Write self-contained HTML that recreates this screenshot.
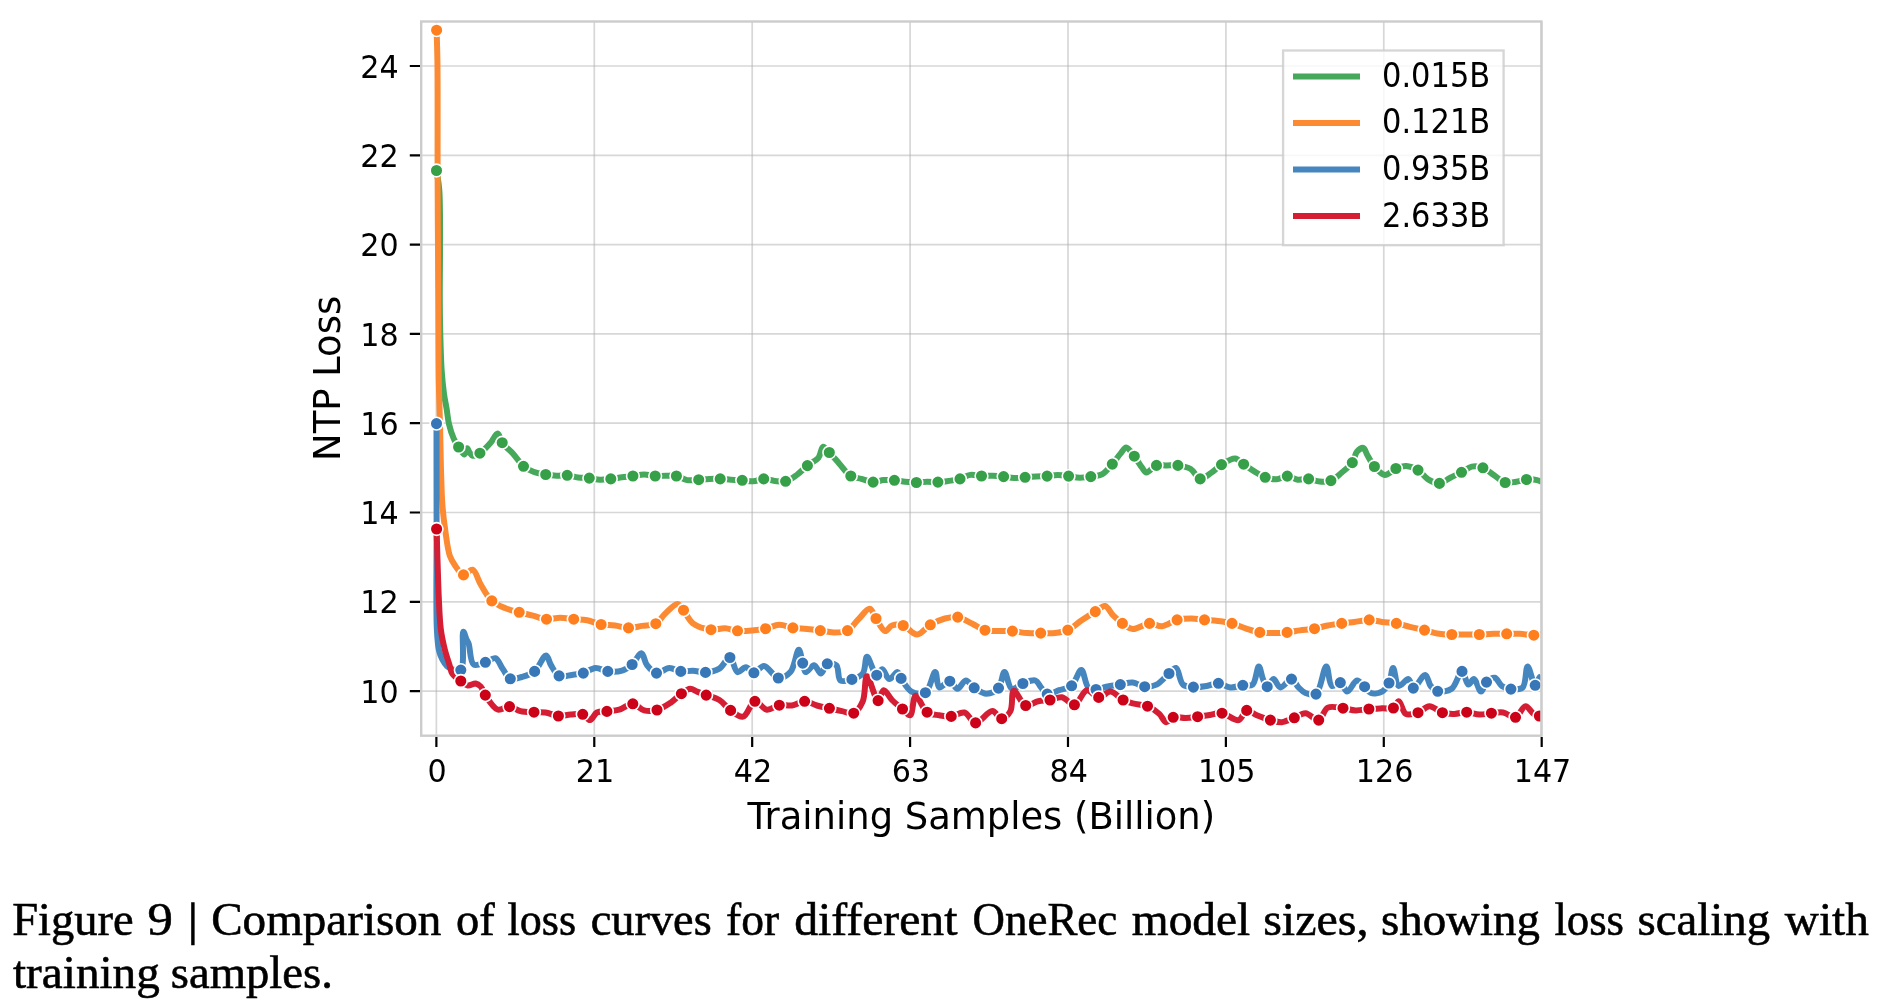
<!DOCTYPE html>
<html><head><meta charset="utf-8"><title>Figure 9</title>
<style>html,body{margin:0;padding:0;background:#fff;overflow:hidden}svg{display:block;will-change:transform}</style>
</head><body>
<svg width="1889" height="1006" viewBox="0 0 1889 1006">
<rect width="1889" height="1006" fill="#fff"/>
<g stroke="#b0b0b0" stroke-opacity="0.5" stroke-width="1.7" fill="none">
<path d="M436.38 21.5V735.7"/>
<path d="M594.28 21.5V735.7"/>
<path d="M752.18 21.5V735.7"/>
<path d="M910.08 21.5V735.7"/>
<path d="M1067.98 21.5V735.7"/>
<path d="M1225.89 21.5V735.7"/>
<path d="M1383.79 21.5V735.7"/>
<path d="M1541.69 21.5V735.7"/>
<path d="M421.2 691.10H1541.4"/>
<path d="M421.2 601.80H1541.4"/>
<path d="M421.2 512.50H1541.4"/>
<path d="M421.2 423.20H1541.4"/>
<path d="M421.2 333.90H1541.4"/>
<path d="M421.2 244.60H1541.4"/>
<path d="M421.2 155.30H1541.4"/>
<path d="M421.2 66.00H1541.4"/>
</g>
<defs><clipPath id="ax"><rect x="421.2" y="21.5" width="1120.2" height="714.2"/></clipPath></defs>
<g clip-path="url(#ax)">
<path d="M436.5 170.5 C437.4 177.0 438.6 180.8 439.3 190.0 C440.9 211.7 439.6 274.8 439.8 300.0 C439.9 313.1 439.9 319.2 440.2 330.0 C440.5 342.6 440.9 359.3 441.7 371.0 C442.3 379.8 443.1 387.3 444.0 394.0 C444.7 399.3 445.7 403.2 446.5 408.0 C447.4 413.2 447.8 418.8 449.0 424.0 C450.2 429.2 452.0 435.0 453.9 439.1 C455.3 442.3 456.9 444.5 458.6 447.0 C460.4 449.6 463.0 454.7 464.5 454.5 C465.7 454.3 466.3 448.3 467.2 448.3 C468.0 448.3 468.6 451.3 469.6 452.6 C470.5 453.8 471.4 455.5 472.8 455.8 C474.6 456.2 477.5 454.7 479.9 453.2 C483.3 451.1 487.3 446.6 490.4 443.1 C493.2 440.0 495.6 433.3 497.6 433.5 C499.5 433.7 500.0 439.6 502.2 442.7 C504.9 446.5 509.9 450.2 513.5 454.2 C517.0 458.1 519.9 463.3 523.5 466.3 C526.6 468.8 529.8 470.3 533.4 471.7 C537.2 473.1 541.7 473.8 545.7 474.5 C549.4 475.1 552.9 475.6 556.5 475.7 C560.1 475.8 563.6 475.0 567.2 475.3 C570.8 475.6 574.3 477.0 578.0 477.5 C581.7 478.0 585.6 477.7 589.3 478.1 C592.9 478.5 596.4 479.6 600.0 479.7 C603.6 479.8 607.2 479.3 610.8 478.9 C614.5 478.5 618.2 477.8 621.9 477.3 C625.6 476.8 629.2 476.5 632.9 476.0 C636.6 475.5 640.5 474.5 644.2 474.5 C647.9 474.5 651.6 475.8 655.2 476.0 C658.7 476.2 662.2 475.7 665.7 475.7 C669.2 475.7 672.9 475.3 676.4 476.0 C680.0 476.7 683.4 479.5 687.1 480.1 C690.8 480.7 694.9 479.9 698.7 479.7 C702.3 479.5 705.8 479.0 709.4 478.9 C713.0 478.8 716.6 478.8 720.2 478.9 C723.8 479.0 727.3 479.5 730.9 479.7 C734.6 479.9 738.5 480.0 742.2 480.3 C745.9 480.6 749.6 481.5 753.2 481.3 C756.8 481.1 760.2 479.0 763.7 478.9 C767.3 478.8 771.0 480.5 774.7 480.9 C778.3 481.3 782.1 482.2 785.6 481.3 C789.5 480.4 793.3 477.4 796.9 474.9 C800.6 472.2 803.8 468.5 807.4 465.6 C811.0 462.8 815.7 461.1 818.4 457.8 C820.9 454.7 821.1 447.1 823.2 446.7 C824.9 446.4 827.1 450.2 829.3 452.5 C832.2 455.5 835.7 459.6 839.1 463.4 C842.8 467.5 846.6 473.5 850.8 476.0 C854.1 478.0 857.8 477.9 861.4 478.9 C865.2 479.9 869.3 481.9 873.1 482.1 C876.7 482.2 880.1 480.4 883.6 480.1 C887.2 479.8 890.8 480.0 894.4 480.3 C898.0 480.6 901.5 481.3 905.1 481.7 C908.8 482.1 912.7 482.5 916.4 482.5 C920.0 482.5 923.4 481.8 927.0 481.7 C930.6 481.6 934.3 482.2 937.9 482.1 C941.6 482.0 945.2 481.4 948.9 480.9 C952.6 480.4 956.4 479.9 960.0 478.9 C963.5 477.9 966.7 475.4 970.3 474.9 C973.9 474.4 977.8 475.9 981.5 476.0 C985.2 476.1 988.9 475.6 992.6 475.7 C996.3 475.8 1000.0 476.2 1003.6 476.6 C1007.1 477.0 1010.6 478.0 1014.1 478.1 C1017.7 478.2 1021.4 477.6 1025.1 477.3 C1028.8 477.0 1032.7 476.7 1036.4 476.5 C1040.0 476.3 1043.5 476.4 1047.1 476.1 C1050.7 475.8 1054.2 474.9 1057.8 474.9 C1061.4 474.9 1065.0 475.6 1068.6 476.1 C1072.3 476.6 1076.0 477.6 1079.7 477.7 C1083.4 477.8 1087.1 477.2 1090.8 476.6 C1094.6 476.0 1098.9 476.0 1102.4 474.1 C1106.2 472.0 1109.2 467.6 1112.3 464.1 C1115.3 460.7 1118.1 456.4 1120.7 453.4 C1122.7 451.1 1124.2 447.4 1126.2 447.4 C1128.6 447.4 1131.7 453.0 1134.3 456.2 C1137.1 459.7 1139.8 464.8 1142.1 467.7 C1143.7 469.7 1144.6 472.3 1146.5 472.5 C1149.1 472.8 1153.0 466.5 1156.5 465.4 C1159.8 464.4 1163.3 465.4 1166.8 465.4 C1170.4 465.4 1174.1 464.9 1177.9 465.4 C1182.1 466.0 1187.0 466.8 1190.7 469.0 C1194.5 471.3 1196.7 478.4 1200.2 478.9 C1203.6 479.4 1207.9 475.0 1211.4 472.6 C1215.0 470.2 1217.7 466.9 1221.5 464.6 C1225.6 462.1 1231.3 458.3 1235.2 458.6 C1238.4 458.9 1240.6 462.2 1243.6 464.2 C1247.0 466.4 1250.7 469.2 1254.3 471.4 C1257.9 473.6 1261.4 476.0 1265.2 477.3 C1268.9 478.6 1272.9 479.5 1276.6 479.3 C1280.2 479.1 1283.8 476.0 1287.3 476.1 C1290.8 476.2 1294.1 479.2 1297.7 479.7 C1301.2 480.2 1305.0 478.6 1308.6 478.9 C1312.3 479.2 1315.8 481.3 1319.5 481.6 C1323.2 481.9 1327.3 482.0 1330.9 480.6 C1334.8 479.1 1338.3 475.4 1341.8 472.5 C1345.4 469.5 1349.7 466.3 1352.3 462.6 C1354.6 459.3 1354.7 454.3 1356.9 451.8 C1358.6 449.8 1361.6 447.4 1363.3 447.8 C1365.1 448.3 1365.7 452.3 1367.3 455.0 C1369.3 458.4 1371.5 463.2 1374.4 466.5 C1377.3 469.8 1381.2 474.6 1384.8 474.9 C1388.3 475.2 1392.2 470.0 1395.9 468.5 C1399.3 467.2 1402.7 465.9 1406.2 466.1 C1410.0 466.3 1414.4 468.0 1418.0 470.1 C1421.8 472.3 1424.4 477.1 1428.1 479.3 C1431.6 481.4 1435.7 483.6 1439.4 483.4 C1443.1 483.2 1446.6 479.5 1450.3 477.7 C1454.0 475.8 1457.9 474.2 1461.5 472.3 C1465.0 470.5 1468.2 467.3 1471.8 466.6 C1475.3 465.9 1479.3 466.5 1482.9 467.8 C1486.8 469.2 1490.4 472.8 1494.1 475.3 C1497.8 477.7 1501.3 481.5 1505.2 482.5 C1508.8 483.4 1512.7 482.2 1516.3 481.7 C1519.8 481.2 1523.1 479.8 1526.5 479.5 C1530.0 479.2 1534.3 479.5 1537.0 480.1 C1538.8 480.5 1539.9 481.2 1541.4 481.7" fill="none" stroke="#45a85a" stroke-width="6.0" stroke-linejoin="round" stroke-linecap="butt"/>
<path d="M436.6 30.2 C436.9 40.1 437.2 46.9 437.4 60.0 C437.8 85.1 437.5 131.8 437.6 170.0 C437.7 211.5 438.1 261.9 438.3 300.0 C438.5 329.9 438.4 357.1 438.8 380.0 C439.1 397.1 439.6 410.0 440.0 425.0 C440.4 440.0 440.6 455.9 441.0 470.0 C441.4 482.4 441.6 494.1 442.4 505.0 C443.1 514.6 444.2 523.3 445.5 532.0 C446.7 540.3 447.7 549.9 449.9 556.0 C451.4 560.2 453.2 562.9 455.4 566.0 C457.7 569.2 460.5 574.4 463.5 574.9 C466.3 575.3 469.9 569.0 472.5 569.7 C475.9 570.6 477.9 579.9 481.0 585.0 C484.3 590.3 487.5 597.0 491.8 600.9 C495.6 604.4 500.4 606.2 505.0 608.1 C509.6 610.0 514.5 611.0 519.2 612.3 C523.8 613.5 528.3 614.5 532.9 615.7 C537.4 616.8 541.9 618.9 546.5 619.2 C551.0 619.5 555.5 617.8 560.0 617.8 C564.5 617.8 569.1 618.8 573.7 619.2 C578.2 619.6 582.7 619.4 587.2 620.3 C591.8 621.2 596.4 623.6 601.1 624.5 C605.7 625.3 610.4 624.9 615.0 625.5 C619.5 626.1 624.0 627.8 628.5 627.9 C633.0 628.0 637.6 626.6 642.1 625.9 C646.7 625.2 652.0 625.8 655.8 623.7 C659.6 621.7 661.6 616.9 665.1 613.7 C668.8 610.3 674.3 603.6 677.6 603.9 C680.0 604.1 681.4 607.6 683.5 610.2 C686.4 613.7 688.6 620.2 692.9 623.4 C697.6 626.9 705.3 629.0 711.0 629.7 C715.9 630.3 720.5 628.1 725.0 628.3 C729.3 628.5 733.1 630.4 737.5 630.8 C742.2 631.2 747.3 630.8 752.1 630.4 C756.7 630.0 761.1 629.6 765.6 628.7 C770.2 627.8 774.7 624.9 779.3 624.8 C783.8 624.7 788.3 627.2 792.9 627.9 C797.6 628.6 802.5 628.5 807.1 629.0 C811.6 629.4 815.9 630.0 820.3 630.6 C824.7 631.2 829.1 632.4 833.6 632.4 C838.2 632.4 843.4 632.6 847.5 630.6 C851.8 628.4 854.9 622.9 858.6 619.2 C862.3 615.6 866.7 608.4 869.7 608.8 C872.3 609.1 873.7 615.1 876.0 618.5 C878.7 622.5 882.1 630.7 885.1 631.1 C887.4 631.4 889.2 626.5 892.0 625.5 C895.1 624.4 899.4 624.4 903.2 625.5 C907.8 626.9 912.6 634.6 917.1 634.5 C921.6 634.4 925.6 627.5 930.3 624.8 C934.9 622.2 940.1 619.8 944.9 618.5 C949.2 617.4 953.4 616.4 957.7 617.1 C962.6 617.9 968.1 621.7 972.8 624.0 C977.1 626.1 980.6 629.0 985.0 630.2 C989.4 631.4 994.6 631.0 999.2 631.1 C1003.7 631.2 1007.9 630.8 1012.4 631.1 C1017.2 631.4 1022.3 632.8 1027.1 633.1 C1031.7 633.4 1036.1 633.1 1040.7 633.1 C1045.4 633.1 1050.3 633.6 1054.9 633.1 C1059.3 632.6 1063.6 632.0 1067.8 630.1 C1072.5 628.0 1076.7 623.7 1081.3 620.6 C1085.9 617.5 1091.0 614.2 1095.3 611.6 C1098.8 609.5 1102.1 605.5 1105.0 606.0 C1108.1 606.5 1110.4 612.8 1113.4 615.7 C1116.2 618.5 1119.2 621.2 1122.4 623.4 C1125.6 625.6 1128.8 628.7 1132.8 629.0 C1137.6 629.4 1144.3 623.7 1149.5 623.4 C1154.0 623.2 1157.8 626.6 1162.1 626.2 C1166.9 625.8 1172.1 621.2 1177.1 619.9 C1181.8 618.7 1186.7 618.5 1191.3 618.5 C1195.8 618.5 1200.1 619.5 1204.5 619.9 C1208.9 620.3 1213.2 620.4 1217.7 621.0 C1222.4 621.6 1227.3 622.2 1232.0 623.4 C1236.6 624.6 1241.0 626.8 1245.6 628.3 C1250.3 629.8 1255.1 631.6 1259.8 632.4 C1264.4 633.2 1268.9 633.1 1273.5 633.1 C1278.0 633.1 1282.6 632.9 1287.1 632.4 C1291.4 632.0 1295.5 631.0 1299.9 630.4 C1304.6 629.8 1309.8 629.5 1314.5 628.7 C1319.0 627.9 1323.2 626.4 1327.7 625.5 C1332.3 624.6 1337.2 624.0 1341.7 623.4 C1346.0 622.8 1349.8 622.5 1354.2 622.0 C1359.0 621.4 1364.4 619.8 1369.2 619.9 C1373.6 620.0 1377.6 621.4 1382.0 622.0 C1386.6 622.6 1391.7 622.6 1396.4 623.4 C1401.0 624.2 1405.3 625.8 1409.9 626.9 C1414.7 628.0 1419.6 629.0 1424.5 630.1 C1429.4 631.3 1434.4 633.1 1439.1 633.8 C1443.4 634.5 1447.5 634.4 1451.8 634.5 C1456.3 634.6 1461.0 634.5 1465.6 634.5 C1470.2 634.5 1474.7 634.6 1479.3 634.5 C1484.0 634.4 1488.9 633.9 1493.5 633.8 C1498.0 633.7 1502.3 633.8 1506.7 633.8 C1511.1 633.8 1515.4 633.6 1519.9 633.8 C1524.5 634.0 1529.9 635.2 1533.8 635.2 C1536.7 635.2 1538.9 634.7 1541.4 634.5" fill="none" stroke="#fb8a33" stroke-width="6.0" stroke-linejoin="round" stroke-linecap="butt"/>
<path d="M436.5 423.6 C436.5 459.1 436.5 495.1 436.6 530.0 C436.7 563.9 435.8 609.4 436.9 630.0 C437.4 639.2 437.7 644.6 438.9 650.0 C439.8 653.8 440.9 656.8 442.4 659.6 C443.7 662.0 445.2 664.4 446.9 666.0 C448.4 667.4 450.0 668.3 452.0 669.0 C454.5 669.8 458.7 671.8 460.8 670.1 C465.2 666.5 461.4 632.1 463.3 631.8 C464.2 631.6 465.7 637.6 466.7 639.8 C467.4 641.3 468.0 641.8 468.7 643.7 C470.2 647.9 470.0 662.2 473.7 664.6 C476.5 666.4 481.7 663.4 485.4 662.3 C488.9 661.2 492.5 657.4 495.3 658.2 C498.5 659.1 500.4 665.8 503.0 669.3 C505.4 672.6 507.1 677.5 510.3 678.8 C513.4 680.0 517.9 678.1 521.8 677.0 C526.0 675.8 530.8 674.5 534.6 671.4 C539.1 667.8 543.2 655.2 546.1 655.4 C548.3 655.6 549.0 662.0 551.0 665.2 C553.2 668.8 555.6 674.3 559.1 675.9 C562.6 677.5 567.8 675.4 571.9 674.9 C575.8 674.4 579.5 674.2 583.3 673.1 C587.4 671.9 591.4 668.2 595.5 667.9 C599.5 667.6 603.5 670.9 607.8 671.4 C612.3 671.9 617.8 672.0 622.0 670.7 C625.8 669.5 629.0 667.2 632.1 664.5 C635.5 661.5 638.9 653.0 641.4 653.3 C643.8 653.6 644.4 661.9 647.0 665.2 C649.5 668.4 652.9 672.5 656.5 673.1 C660.3 673.7 665.1 668.1 669.3 667.9 C673.2 667.7 676.9 670.9 680.8 671.4 C684.7 671.9 688.8 670.5 692.9 670.7 C697.1 670.9 701.2 672.7 705.5 672.4 C710.0 672.1 715.4 671.0 719.4 668.6 C723.5 666.1 726.9 657.1 729.9 657.5 C733.0 657.9 734.3 671.2 737.5 672.1 C739.9 672.8 743.2 667.1 745.9 667.2 C748.6 667.3 751.1 672.8 753.9 672.8 C757.1 672.8 760.4 665.7 764.0 665.9 C768.4 666.1 773.5 677.4 778.3 678.0 C782.3 678.5 787.2 675.6 790.4 672.1 C794.7 667.4 796.6 649.7 798.8 649.8 C800.5 649.9 801.4 659.1 802.7 663.1 C803.7 666.4 803.9 671.6 805.7 672.1 C807.6 672.6 811.5 665.0 814.1 665.2 C816.6 665.4 818.8 673.6 821.0 673.5 C823.2 673.4 824.5 665.0 827.3 663.8 C829.8 662.7 834.1 663.3 836.3 665.2 C839.2 667.7 837.4 678.4 840.5 680.5 C843.1 682.3 848.3 680.5 851.9 679.4 C855.7 678.2 860.3 676.7 862.8 673.5 C865.8 669.7 864.9 657.1 867.0 656.8 C869.3 656.5 873.6 674.8 876.7 675.2 C878.6 675.5 880.4 669.2 882.3 669.3 C884.6 669.5 886.6 678.8 889.2 679.1 C891.7 679.4 895.6 671.7 897.6 672.1 C899.3 672.4 899.5 676.0 901.1 678.4 C903.5 682.1 907.2 689.3 911.5 691.6 C915.4 693.7 921.7 694.8 925.4 692.7 C930.2 690.0 932.8 671.9 935.2 672.1 C937.2 672.3 936.5 686.3 939.3 687.4 C941.7 688.4 946.7 680.8 949.8 681.2 C952.7 681.6 954.8 688.8 957.4 688.8 C960.1 688.8 963.0 680.6 965.8 680.5 C968.6 680.4 971.0 685.7 974.2 687.8 C977.8 690.2 982.6 693.7 986.7 693.7 C990.7 693.7 995.6 691.3 998.5 688.1 C1001.8 684.5 1002.3 672.2 1004.5 672.1 C1006.7 672.0 1008.2 687.5 1011.8 688.8 C1014.7 689.9 1019.0 684.9 1022.9 683.5 C1026.9 682.1 1032.3 679.4 1035.4 680.5 C1038.0 681.4 1039.0 685.1 1041.0 687.4 C1043.0 689.7 1044.5 693.4 1047.2 694.1 C1050.3 694.9 1055.1 691.6 1059.1 690.2 C1063.2 688.8 1068.1 688.6 1071.6 685.8 C1075.8 682.4 1078.5 669.8 1081.3 670.0 C1084.1 670.2 1085.0 684.5 1088.3 687.4 C1090.5 689.3 1093.2 689.5 1096.0 689.5 C1099.2 689.5 1102.7 687.5 1106.4 686.7 C1110.7 685.8 1115.8 685.3 1120.3 684.6 C1124.6 683.9 1128.7 682.2 1132.8 682.6 C1136.9 683.0 1140.7 686.4 1144.7 686.7 C1148.6 687.0 1152.8 686.4 1156.5 684.6 C1160.9 682.5 1165.4 676.5 1169.0 673.5 C1171.6 671.3 1174.0 667.5 1176.0 668.0 C1178.9 668.8 1179.4 681.6 1183.0 684.6 C1185.7 686.9 1189.7 686.8 1193.4 687.1 C1197.5 687.4 1202.3 686.7 1206.6 686.0 C1210.7 685.4 1214.5 683.1 1218.4 683.3 C1222.4 683.5 1226.2 687.1 1230.3 687.4 C1234.4 687.7 1238.9 685.8 1242.8 685.3 C1246.3 684.9 1250.1 686.5 1252.6 684.6 C1256.1 681.9 1256.9 666.5 1258.8 666.5 C1260.3 666.5 1261.4 675.5 1263.0 679.1 C1264.3 682.0 1265.5 686.5 1267.2 686.7 C1269.0 686.9 1271.4 679.1 1273.5 679.1 C1275.7 679.1 1277.6 687.1 1280.4 687.4 C1283.5 687.8 1288.4 678.7 1291.5 679.1 C1294.3 679.4 1296.0 685.0 1298.5 687.4 C1300.7 689.6 1302.7 691.9 1305.5 693.0 C1308.5 694.2 1313.0 695.9 1316.0 694.1 C1320.9 691.0 1323.5 666.4 1326.3 666.5 C1328.6 666.6 1328.6 684.4 1331.9 686.0 C1334.1 687.1 1337.9 681.9 1340.3 682.6 C1343.0 683.3 1344.6 691.5 1347.2 691.6 C1350.1 691.7 1353.8 680.8 1357.0 680.5 C1359.6 680.3 1362.2 684.6 1364.6 686.7 C1366.9 688.7 1368.2 692.1 1370.9 693.0 C1373.9 694.0 1379.0 693.3 1382.0 691.6 C1385.0 689.9 1387.2 686.5 1389.0 683.0 C1391.1 678.9 1391.6 668.0 1393.1 668.0 C1394.8 668.0 1395.6 684.9 1398.7 686.0 C1401.2 686.8 1406.0 678.5 1408.5 679.1 C1410.8 679.6 1411.1 687.8 1413.3 688.1 C1416.2 688.5 1422.2 674.5 1425.2 674.9 C1427.7 675.2 1428.4 683.2 1430.7 686.0 C1432.7 688.4 1434.8 690.6 1437.7 691.3 C1441.4 692.2 1447.8 691.5 1451.6 688.8 C1456.2 685.6 1459.1 671.3 1462.0 671.4 C1464.5 671.5 1466.0 684.2 1468.4 684.6 C1470.1 684.9 1472.2 678.8 1474.0 679.1 C1476.4 679.4 1478.8 691.6 1481.0 691.6 C1482.9 691.6 1484.1 684.4 1486.5 682.1 C1488.8 679.9 1492.3 677.2 1494.8 677.7 C1497.5 678.2 1499.0 684.1 1501.8 686.0 C1504.4 687.8 1507.6 688.8 1510.9 689.1 C1514.5 689.4 1519.9 689.9 1522.7 687.4 C1526.4 684.0 1525.5 666.7 1527.6 666.5 C1529.7 666.3 1532.9 685.2 1535.2 685.3 C1536.7 685.4 1538.1 679.3 1539.4 677.7 C1540.1 676.8 1540.7 676.6 1541.4 676.0" fill="none" stroke="#4586bf" stroke-width="6.0" stroke-linejoin="round" stroke-linecap="butt"/>
<path d="M436.6 529.0 C436.9 539.3 437.1 549.0 437.5 560.0 C437.9 572.5 438.3 587.6 438.9 600.0 C439.4 610.7 439.7 621.0 440.9 630.0 C441.9 637.4 443.4 643.9 444.9 650.0 C446.2 655.3 448.1 660.3 449.4 664.6 C450.5 668.0 450.6 671.0 452.3 673.6 C454.2 676.5 458.0 678.9 460.8 681.0 C463.2 682.8 465.2 685.1 467.7 685.5 C470.2 685.9 473.4 683.2 475.7 683.5 C477.6 683.8 479.2 685.0 480.7 686.5 C482.6 688.5 483.2 692.0 485.3 695.1 C488.2 699.4 492.9 708.0 497.5 709.5 C501.2 710.7 505.6 706.3 509.5 706.6 C513.3 706.9 516.5 710.2 520.4 711.1 C524.6 712.1 529.7 712.0 534.0 712.2 C538.0 712.4 541.5 711.9 545.4 712.5 C549.6 713.1 554.1 715.7 558.4 716.0 C562.5 716.3 566.5 714.9 570.5 714.6 C574.6 714.3 579.3 713.2 582.7 714.3 C585.7 715.3 587.7 720.3 590.0 720.1 C592.4 719.9 594.1 713.9 596.9 712.5 C599.7 711.1 603.4 711.8 606.9 711.4 C610.8 710.9 615.1 710.9 619.2 709.7 C623.7 708.4 628.5 703.6 632.8 703.8 C636.8 704.0 640.1 709.4 644.2 710.4 C648.2 711.4 652.8 711.1 657.0 710.0 C661.6 708.8 666.5 705.5 670.7 702.7 C674.6 700.0 677.9 696.1 681.4 693.7 C684.4 691.6 687.4 689.0 690.2 688.8 C692.6 688.7 694.6 690.6 697.1 691.6 C699.9 692.7 702.9 693.8 706.2 695.1 C710.2 696.6 715.4 697.5 719.4 700.0 C723.6 702.6 726.5 707.6 730.6 710.4 C734.5 713.1 739.3 717.6 743.1 716.7 C747.6 715.7 750.6 702.0 754.9 701.3 C758.6 700.7 762.6 709.1 766.8 709.7 C770.8 710.2 775.1 705.9 779.3 705.2 C783.4 704.5 787.7 706.1 791.8 705.5 C796.1 704.9 800.4 701.3 804.6 701.3 C808.7 701.3 812.8 704.3 816.9 705.5 C821.0 706.7 825.2 707.4 829.4 708.3 C833.6 709.2 837.8 710.3 841.9 711.1 C845.9 711.9 850.3 714.5 853.7 713.2 C857.5 711.7 860.6 706.3 862.8 701.3 C865.6 694.8 864.5 676.6 867.0 676.3 C869.6 676.0 874.9 700.5 878.1 700.6 C880.2 700.7 881.4 690.4 883.7 690.2 C886.0 690.0 888.9 696.9 892.0 700.0 C895.2 703.2 899.3 706.3 902.5 709.0 C905.2 711.3 908.1 715.9 910.1 715.3 C913.0 714.4 912.8 696.3 915.7 695.8 C918.5 695.3 922.6 709.1 927.1 712.2 C930.7 714.7 935.2 714.6 939.3 715.3 C943.3 716.0 947.2 716.8 951.2 716.4 C955.5 716.0 960.4 711.6 964.4 712.5 C968.6 713.5 971.4 722.6 975.6 722.9 C980.5 723.2 987.6 710.9 992.3 711.1 C995.9 711.2 998.7 718.8 1001.7 718.7 C1004.7 718.6 1008.4 714.7 1010.4 711.1 C1013.1 706.3 1011.1 691.6 1013.8 690.9 C1016.4 690.2 1021.2 704.2 1025.7 705.5 C1029.5 706.6 1034.0 702.2 1038.2 701.3 C1042.1 700.4 1046.1 700.7 1050.0 700.0 C1054.0 699.3 1058.0 696.6 1061.9 697.2 C1066.2 697.9 1070.5 705.4 1074.4 704.8 C1078.9 704.1 1082.5 690.9 1086.9 690.2 C1090.6 689.6 1094.7 697.2 1098.7 697.4 C1102.6 697.6 1106.7 691.3 1110.6 691.6 C1114.8 691.9 1119.1 698.0 1123.1 700.0 C1126.4 701.7 1129.2 702.4 1132.8 703.4 C1137.2 704.6 1143.0 704.4 1147.5 706.2 C1151.8 707.9 1156.1 711.0 1159.3 713.9 C1162.1 716.4 1163.7 721.9 1166.2 722.2 C1168.4 722.5 1170.4 718.1 1173.2 717.3 C1176.6 716.3 1181.6 718.1 1185.7 718.0 C1189.7 717.9 1193.8 717.2 1197.6 716.7 C1201.2 716.3 1204.3 715.8 1208.0 715.3 C1212.3 714.7 1217.2 712.6 1222.0 713.2 C1227.4 713.9 1234.4 721.2 1238.7 720.1 C1242.3 719.2 1243.6 711.1 1246.7 710.4 C1249.7 709.8 1253.1 713.8 1256.8 715.3 C1261.0 717.0 1266.0 718.9 1270.4 720.1 C1274.3 721.1 1278.0 722.5 1281.8 722.2 C1285.9 721.9 1290.3 719.3 1294.3 717.8 C1298.2 716.3 1301.7 713.0 1305.5 713.2 C1309.8 713.4 1315.0 721.0 1318.7 720.1 C1322.5 719.2 1323.7 709.6 1327.8 707.6 C1331.8 705.6 1338.2 707.7 1343.0 708.2 C1347.4 708.7 1351.4 710.3 1355.7 710.4 C1360.0 710.5 1364.5 709.4 1368.9 709.0 C1373.3 708.7 1377.9 708.5 1382.1 708.3 C1386.0 708.1 1390.5 709.4 1393.4 708.0 C1395.9 706.8 1397.0 701.1 1398.8 701.3 C1401.1 701.5 1402.4 712.1 1405.8 713.9 C1408.9 715.6 1414.1 713.9 1418.0 712.7 C1422.0 711.4 1425.4 706.3 1429.4 706.2 C1433.6 706.1 1438.0 711.4 1442.4 712.7 C1446.4 713.9 1450.5 714.0 1454.5 713.9 C1458.6 713.8 1462.6 712.1 1466.7 712.2 C1470.9 712.3 1475.3 714.5 1479.5 714.6 C1483.5 714.7 1487.4 713.6 1491.4 713.2 C1495.3 712.9 1499.3 711.9 1503.2 712.5 C1507.3 713.2 1511.9 718.2 1515.5 717.3 C1519.4 716.4 1522.2 706.3 1525.5 706.2 C1528.3 706.1 1531.1 712.3 1533.8 713.9 C1535.7 715.1 1538.0 715.7 1539.4 716.0 C1540.2 716.1 1540.7 716.0 1541.4 716.0" fill="none" stroke="#d51d34" stroke-width="6.0" stroke-linejoin="round" stroke-linecap="butt"/>
<g fill="#35a048" stroke="#fff" stroke-width="1.6"><circle cx="436.5" cy="170.5" r="6.35"/><circle cx="458.6" cy="447.0" r="6.35"/><circle cx="479.9" cy="453.2" r="6.35"/><circle cx="502.2" cy="442.7" r="6.35"/><circle cx="523.5" cy="466.3" r="6.35"/><circle cx="545.7" cy="474.5" r="6.35"/><circle cx="567.2" cy="475.3" r="6.35"/><circle cx="589.3" cy="478.1" r="6.35"/><circle cx="610.8" cy="478.9" r="6.35"/><circle cx="632.9" cy="476.0" r="6.35"/><circle cx="655.2" cy="476.0" r="6.35"/><circle cx="676.4" cy="476.0" r="6.35"/><circle cx="698.7" cy="479.7" r="6.35"/><circle cx="720.2" cy="478.9" r="6.35"/><circle cx="742.2" cy="480.3" r="6.35"/><circle cx="763.7" cy="478.9" r="6.35"/><circle cx="785.6" cy="481.3" r="6.35"/><circle cx="807.4" cy="465.6" r="6.35"/><circle cx="829.3" cy="452.5" r="6.35"/><circle cx="850.8" cy="476.0" r="6.35"/><circle cx="873.1" cy="482.1" r="6.35"/><circle cx="894.4" cy="480.3" r="6.35"/><circle cx="916.4" cy="482.5" r="6.35"/><circle cx="937.9" cy="482.1" r="6.35"/><circle cx="960.0" cy="478.9" r="6.35"/><circle cx="981.5" cy="476.0" r="6.35"/><circle cx="1003.6" cy="476.6" r="6.35"/><circle cx="1025.1" cy="477.3" r="6.35"/><circle cx="1047.1" cy="476.1" r="6.35"/><circle cx="1068.6" cy="476.1" r="6.35"/><circle cx="1090.8" cy="476.6" r="6.35"/><circle cx="1112.3" cy="464.1" r="6.35"/><circle cx="1134.3" cy="456.2" r="6.35"/><circle cx="1156.5" cy="465.4" r="6.35"/><circle cx="1177.9" cy="465.4" r="6.35"/><circle cx="1200.2" cy="478.9" r="6.35"/><circle cx="1221.5" cy="464.6" r="6.35"/><circle cx="1243.6" cy="464.2" r="6.35"/><circle cx="1265.2" cy="477.3" r="6.35"/><circle cx="1287.3" cy="476.1" r="6.35"/><circle cx="1308.6" cy="478.9" r="6.35"/><circle cx="1330.9" cy="480.6" r="6.35"/><circle cx="1352.3" cy="462.6" r="6.35"/><circle cx="1374.4" cy="466.5" r="6.35"/><circle cx="1395.9" cy="468.5" r="6.35"/><circle cx="1418.0" cy="470.1" r="6.35"/><circle cx="1439.4" cy="483.4" r="6.35"/><circle cx="1461.5" cy="472.3" r="6.35"/><circle cx="1482.9" cy="467.8" r="6.35"/><circle cx="1505.2" cy="482.5" r="6.35"/><circle cx="1526.5" cy="479.5" r="6.35"/></g>
<g fill="#ff7f1e" stroke="#fff" stroke-width="1.6"><circle cx="436.6" cy="30.2" r="6.35"/><circle cx="463.5" cy="574.9" r="6.35"/><circle cx="491.8" cy="600.9" r="6.35"/><circle cx="519.2" cy="612.3" r="6.35"/><circle cx="546.5" cy="619.2" r="6.35"/><circle cx="573.7" cy="619.2" r="6.35"/><circle cx="601.1" cy="624.5" r="6.35"/><circle cx="628.5" cy="627.9" r="6.35"/><circle cx="655.8" cy="623.7" r="6.35"/><circle cx="683.5" cy="610.2" r="6.35"/><circle cx="711.0" cy="629.7" r="6.35"/><circle cx="737.5" cy="630.8" r="6.35"/><circle cx="765.6" cy="628.7" r="6.35"/><circle cx="792.9" cy="627.9" r="6.35"/><circle cx="820.3" cy="630.6" r="6.35"/><circle cx="847.5" cy="630.6" r="6.35"/><circle cx="876.0" cy="618.5" r="6.35"/><circle cx="903.2" cy="625.5" r="6.35"/><circle cx="930.3" cy="624.8" r="6.35"/><circle cx="957.7" cy="617.1" r="6.35"/><circle cx="985.0" cy="630.2" r="6.35"/><circle cx="1012.4" cy="631.1" r="6.35"/><circle cx="1040.7" cy="633.1" r="6.35"/><circle cx="1067.8" cy="630.1" r="6.35"/><circle cx="1095.3" cy="611.6" r="6.35"/><circle cx="1122.4" cy="623.4" r="6.35"/><circle cx="1149.5" cy="623.4" r="6.35"/><circle cx="1177.1" cy="619.9" r="6.35"/><circle cx="1204.5" cy="619.9" r="6.35"/><circle cx="1232.0" cy="623.4" r="6.35"/><circle cx="1259.8" cy="632.4" r="6.35"/><circle cx="1287.1" cy="632.4" r="6.35"/><circle cx="1314.5" cy="628.7" r="6.35"/><circle cx="1341.7" cy="623.4" r="6.35"/><circle cx="1369.2" cy="619.9" r="6.35"/><circle cx="1396.4" cy="623.4" r="6.35"/><circle cx="1424.5" cy="630.1" r="6.35"/><circle cx="1451.8" cy="634.5" r="6.35"/><circle cx="1479.3" cy="634.5" r="6.35"/><circle cx="1506.7" cy="633.8" r="6.35"/><circle cx="1533.8" cy="635.2" r="6.35"/></g>
<g fill="#3777b8" stroke="#fff" stroke-width="1.6"><circle cx="436.5" cy="423.6" r="6.35"/><circle cx="460.8" cy="670.1" r="6.35"/><circle cx="485.4" cy="662.3" r="6.35"/><circle cx="510.3" cy="678.8" r="6.35"/><circle cx="534.6" cy="671.4" r="6.35"/><circle cx="559.1" cy="675.9" r="6.35"/><circle cx="583.3" cy="673.1" r="6.35"/><circle cx="607.8" cy="671.4" r="6.35"/><circle cx="632.1" cy="664.5" r="6.35"/><circle cx="656.5" cy="673.1" r="6.35"/><circle cx="680.8" cy="671.4" r="6.35"/><circle cx="705.5" cy="672.4" r="6.35"/><circle cx="729.9" cy="657.5" r="6.35"/><circle cx="753.9" cy="672.8" r="6.35"/><circle cx="778.3" cy="678.0" r="6.35"/><circle cx="802.7" cy="663.1" r="6.35"/><circle cx="827.3" cy="663.8" r="6.35"/><circle cx="851.9" cy="679.4" r="6.35"/><circle cx="876.7" cy="675.2" r="6.35"/><circle cx="901.1" cy="678.4" r="6.35"/><circle cx="925.4" cy="692.7" r="6.35"/><circle cx="949.8" cy="681.2" r="6.35"/><circle cx="974.2" cy="687.8" r="6.35"/><circle cx="998.5" cy="688.1" r="6.35"/><circle cx="1022.9" cy="683.5" r="6.35"/><circle cx="1047.2" cy="694.1" r="6.35"/><circle cx="1071.6" cy="685.8" r="6.35"/><circle cx="1096.0" cy="689.5" r="6.35"/><circle cx="1120.3" cy="684.6" r="6.35"/><circle cx="1144.7" cy="686.7" r="6.35"/><circle cx="1169.0" cy="673.5" r="6.35"/><circle cx="1193.4" cy="687.1" r="6.35"/><circle cx="1218.4" cy="683.3" r="6.35"/><circle cx="1242.8" cy="685.3" r="6.35"/><circle cx="1267.2" cy="686.7" r="6.35"/><circle cx="1291.5" cy="679.1" r="6.35"/><circle cx="1316.0" cy="694.1" r="6.35"/><circle cx="1340.3" cy="682.6" r="6.35"/><circle cx="1364.6" cy="686.7" r="6.35"/><circle cx="1389.0" cy="683.0" r="6.35"/><circle cx="1413.3" cy="688.1" r="6.35"/><circle cx="1437.7" cy="691.3" r="6.35"/><circle cx="1462.0" cy="671.4" r="6.35"/><circle cx="1486.5" cy="682.1" r="6.35"/><circle cx="1510.9" cy="689.1" r="6.35"/><circle cx="1535.2" cy="685.3" r="6.35"/></g>
<g fill="#cc0218" stroke="#fff" stroke-width="1.6"><circle cx="436.6" cy="529.0" r="6.35"/><circle cx="460.8" cy="681.0" r="6.35"/><circle cx="485.3" cy="695.1" r="6.35"/><circle cx="509.5" cy="706.6" r="6.35"/><circle cx="534.0" cy="712.2" r="6.35"/><circle cx="558.4" cy="716.0" r="6.35"/><circle cx="582.7" cy="714.3" r="6.35"/><circle cx="606.9" cy="711.4" r="6.35"/><circle cx="632.8" cy="703.8" r="6.35"/><circle cx="657.0" cy="710.0" r="6.35"/><circle cx="681.4" cy="693.7" r="6.35"/><circle cx="706.2" cy="695.1" r="6.35"/><circle cx="730.6" cy="710.4" r="6.35"/><circle cx="754.9" cy="701.3" r="6.35"/><circle cx="779.3" cy="705.2" r="6.35"/><circle cx="804.6" cy="701.3" r="6.35"/><circle cx="829.4" cy="708.3" r="6.35"/><circle cx="853.7" cy="713.2" r="6.35"/><circle cx="878.1" cy="700.6" r="6.35"/><circle cx="902.5" cy="709.0" r="6.35"/><circle cx="927.1" cy="712.2" r="6.35"/><circle cx="951.2" cy="716.4" r="6.35"/><circle cx="975.6" cy="722.9" r="6.35"/><circle cx="1001.7" cy="718.7" r="6.35"/><circle cx="1025.7" cy="705.5" r="6.35"/><circle cx="1050.0" cy="700.0" r="6.35"/><circle cx="1074.4" cy="704.8" r="6.35"/><circle cx="1098.7" cy="697.4" r="6.35"/><circle cx="1123.1" cy="700.0" r="6.35"/><circle cx="1147.5" cy="706.2" r="6.35"/><circle cx="1173.2" cy="717.3" r="6.35"/><circle cx="1197.6" cy="716.7" r="6.35"/><circle cx="1222.0" cy="713.2" r="6.35"/><circle cx="1246.7" cy="710.4" r="6.35"/><circle cx="1270.4" cy="720.1" r="6.35"/><circle cx="1294.3" cy="717.8" r="6.35"/><circle cx="1318.7" cy="720.1" r="6.35"/><circle cx="1343.0" cy="708.2" r="6.35"/><circle cx="1368.9" cy="709.0" r="6.35"/><circle cx="1393.4" cy="708.0" r="6.35"/><circle cx="1418.0" cy="712.7" r="6.35"/><circle cx="1442.4" cy="712.7" r="6.35"/><circle cx="1466.7" cy="712.2" r="6.35"/><circle cx="1491.4" cy="713.2" r="6.35"/><circle cx="1515.5" cy="717.3" r="6.35"/><circle cx="1539.4" cy="716.0" r="6.35"/></g>
</g>
<rect x="421.2" y="21.5" width="1120.20" height="714.20" fill="none" stroke="#cccccc" stroke-width="2.4"/>
<path d="M436.38 736.9000000000001v10.2M594.28 736.9000000000001v10.2M752.18 736.9000000000001v10.2M910.08 736.9000000000001v10.2M1067.98 736.9000000000001v10.2M1225.89 736.9000000000001v10.2M1383.79 736.9000000000001v10.2M1541.69 736.9000000000001v10.2M420.0 691.10h-10.2M420.0 601.80h-10.2M420.0 512.50h-10.2M420.0 423.20h-10.2M420.0 333.90h-10.2M420.0 244.60h-10.2M420.0 155.30h-10.2M420.0 66.00h-10.2" stroke="#000" stroke-width="2.2" fill="none"/>
<g font-family="DejaVu Sans, sans-serif" font-size="30.2" fill="#000">
<text transform="translate(437.18 781.8) scale(1 1.055)" text-anchor="middle">0</text>
<text transform="translate(595.08 781.8) scale(1 1.055)" text-anchor="middle">21</text>
<text transform="translate(752.98 781.8) scale(1 1.055)" text-anchor="middle">42</text>
<text transform="translate(910.88 781.8) scale(1 1.055)" text-anchor="middle">63</text>
<text transform="translate(1068.78 781.8) scale(1 1.055)" text-anchor="middle">84</text>
<text transform="translate(1226.69 781.8) scale(1 1.055)" text-anchor="middle">105</text>
<text transform="translate(1384.59 781.8) scale(1 1.055)" text-anchor="middle">126</text>
<text transform="translate(1542.49 781.8) scale(1 1.055)" text-anchor="middle">147</text>
<text transform="translate(398.6 702.70) scale(1 1.055)" text-anchor="end">10</text>
<text transform="translate(398.6 613.40) scale(1 1.055)" text-anchor="end">12</text>
<text transform="translate(398.6 524.10) scale(1 1.055)" text-anchor="end">14</text>
<text transform="translate(398.6 434.80) scale(1 1.055)" text-anchor="end">16</text>
<text transform="translate(398.6 345.50) scale(1 1.055)" text-anchor="end">18</text>
<text transform="translate(398.6 256.20) scale(1 1.055)" text-anchor="end">20</text>
<text transform="translate(398.6 166.90) scale(1 1.055)" text-anchor="end">22</text>
<text transform="translate(398.6 77.60) scale(1 1.055)" text-anchor="end">24</text>
</g>
<text x="981.3" y="828.6" text-anchor="middle" font-family="DejaVu Sans, sans-serif" font-size="36.9">Training Samples (Billion)</text>
<text transform="translate(339.8 378.4) rotate(-90)" text-anchor="middle" font-family="DejaVu Sans, sans-serif" font-size="36.9">NTP Loss</text>
<rect x="1283.1" y="50.5" width="220.5" height="194.7" fill="#fff" fill-opacity="0.8" stroke="#cccccc" stroke-opacity="0.8" stroke-width="2.3"/>
<path d="M1293 76.4H1360" stroke="#45a85a" stroke-width="6" fill="none"/>
<text transform="translate(1382 86.8) scale(1 1.08)" font-family="DejaVu Sans, sans-serif" font-size="30.5">0.015B</text>
<path d="M1293 122.9H1360" stroke="#fb8a33" stroke-width="6" fill="none"/>
<text transform="translate(1382 133.3) scale(1 1.08)" font-family="DejaVu Sans, sans-serif" font-size="30.5">0.121B</text>
<path d="M1293 169.5H1360" stroke="#4586bf" stroke-width="6" fill="none"/>
<text transform="translate(1382 179.9) scale(1 1.08)" font-family="DejaVu Sans, sans-serif" font-size="30.5">0.935B</text>
<path d="M1293 216.1H1360" stroke="#d51d34" stroke-width="6" fill="none"/>
<text transform="translate(1382 226.5) scale(1 1.08)" font-family="DejaVu Sans, sans-serif" font-size="30.5">2.633B</text>
<g font-family="Liberation Serif, serif" font-size="44" fill="#000" stroke="#000" stroke-width="0.55">
<g transform="translate(0 934.8) scale(1 1.04) translate(0 -934.8)">
<text x="12.20" y="934.8" textLength="121.45" lengthAdjust="spacingAndGlyphs">Figure</text>
<text x="147.60" y="934.8" textLength="25.35" lengthAdjust="spacingAndGlyphs">9</text>
<text x="187.60" y="934.8" textLength="10.73" lengthAdjust="spacingAndGlyphs">|</text>
<text x="211.20" y="934.8" textLength="230.22" lengthAdjust="spacingAndGlyphs">Comparison</text>
<text x="456.00" y="934.8" textLength="38.66" lengthAdjust="spacingAndGlyphs">of</text>
<text x="507.60" y="934.8" textLength="68.45" lengthAdjust="spacingAndGlyphs">loss</text>
<text x="590.80" y="934.8" textLength="120.88" lengthAdjust="spacingAndGlyphs">curves</text>
<text x="726.00" y="934.8" textLength="53.03" lengthAdjust="spacingAndGlyphs">for</text>
<text x="794.20" y="934.8" textLength="163.21" lengthAdjust="spacingAndGlyphs">different</text>
<text x="972.60" y="934.8" textLength="144.63" lengthAdjust="spacingAndGlyphs">OneRec</text>
<text x="1131.80" y="934.8" textLength="118.42" lengthAdjust="spacingAndGlyphs">model</text>
<text x="1263.20" y="934.8" textLength="105.22" lengthAdjust="spacingAndGlyphs">sizes,</text>
<text x="1381.00" y="934.8" textLength="158.86" lengthAdjust="spacingAndGlyphs">showing</text>
<text x="1554.40" y="934.8" textLength="69.63" lengthAdjust="spacingAndGlyphs">loss</text>
<text x="1637.60" y="934.8" textLength="132.44" lengthAdjust="spacingAndGlyphs">scaling</text>
<text x="1784.80" y="934.8" textLength="84.01" lengthAdjust="spacingAndGlyphs">with</text>
</g>
<g transform="translate(0 987.9) scale(1 1.04) translate(0 -987.9)">
<text x="13.00" y="987.9" textLength="146.80" lengthAdjust="spacingAndGlyphs">training</text>
<text x="170.80" y="987.9" textLength="162.11" lengthAdjust="spacingAndGlyphs">samples.</text>
</g>
</g>
</svg>
</body></html>
